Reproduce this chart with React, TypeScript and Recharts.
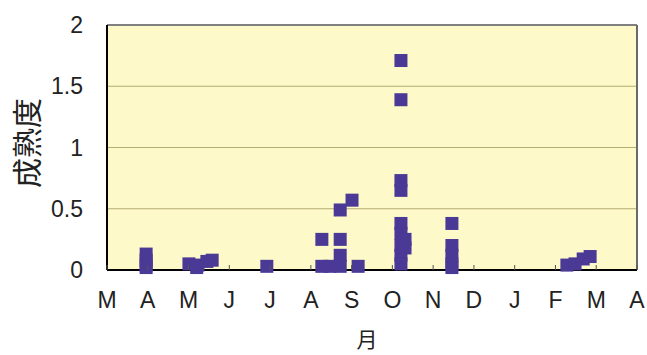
import { CartesianGrid, ReferenceLine, Scatter, ScatterChart, XAxis, YAxis } from "recharts";

const monthLabels = ["M", "A", "M", "J", "J", "A", "S", "O", "N", "D", "J", "F", "M", "A"];
const yTicks = [0, 0.5, 1, 1.5, 2];

// month position (0 = March) and maturity value
const monthPos = [
  0.96, 0.96, 0.96, 0.96,
  2.01, 2.23, 2.45, 2.58, 2.2,
  3.92,
  5.27, 5.27, 5.47, 5.72, 5.72, 5.72, 5.72, 6.01, 6.16,
  7.21, 7.21, 7.21, 7.21, 7.21, 7.21, 7.21, 7.21, 7.21, 7.31, 7.31,
  8.46, 8.46, 8.46, 8.46, 8.46,
  11.28, 11.48, 11.68, 11.85,
];
const maturity = [
  0.13, 0.08, 0.04, 0.02,
  0.05, 0.04, 0.07, 0.08, 0.02,
  0.03,
  0.25, 0.03, 0.03, 0.49, 0.25, 0.12, 0.03, 0.57, 0.03,
  1.71, 1.39, 0.73, 0.65, 0.38, 0.3, 0.2, 0.12, 0.05, 0.25, 0.18,
  0.38, 0.2, 0.12, 0.05, 0.02,
  0.04, 0.05, 0.09, 0.11,
];

const points = monthPos.map((m, i) => ({ month: m, value: maturity[i] }));

const font = "'Liberation Sans', Arial, sans-serif";

const Square = (props: any) => {
  const { cx, cy } = props;
  return <rect x={cx - 6.5} y={cy - 6.5} width={13} height={13} fill="#4b3996" />;
};

const MonthTick = (props: any) => {
  const { x, y, payload } = props;
  return (
    <g>
      <line x1={x} y1={y} x2={x} y2={y - 5} stroke="#555" strokeWidth={1} />
      <text x={x} y={y + 38} textAnchor="middle" fontSize={23} fill="#222" fontFamily={font}>
        {monthLabels[payload.value]}
      </text>
    </g>
  );
};

const YTitle = () => (
  <text
    x={25}
    y={143}
    transform="rotate(-90 25 143)"
    textAnchor="middle"
    dominantBaseline="central"
    fontSize={30}
    fill="#222"
    fontFamily="'Noto Sans CJK JP', sans-serif"
  >
    成熟度
  </text>
);

const XTitle = () => (
  <text x={367} y={347} textAnchor="middle" fontSize={21} fill="#222" fontFamily="'Noto Sans CJK JP', sans-serif">
    月
  </text>
);

export default function App() {
  return (
    <div style={{ position: "absolute", left: 0, top: 0, width: 647, height: 355, background: "#fff" }}>
      <style>{`body{margin:0}`}</style>
      <ScatterChart width={647} height={355} margin={{ top: 25, right: 10, left: 0, bottom: 0 }}>
        <CartesianGrid vertical={false} stroke="#b3ad72" fill="#fdf9c9" fillOpacity={1} />
        <XAxis
          type="number"
          dataKey="month"
          domain={[0, 13]}
          ticks={monthLabels.map((_, i) => i)}
          interval={0}
          height={85}
          axisLine={{ stroke: "#000", strokeWidth: 2 }}
          tickLine={false}
          tickSize={0}
          tickMargin={0}
          tick={<MonthTick />}
          label={<XTitle />}
        />
        <YAxis
          type="number"
          dataKey="value"
          domain={[0, 2]}
          ticks={yTicks}
          width={107}
          axisLine={{ stroke: "#000", strokeWidth: 2 }}
          tickLine={false}
          tickSize={0}
          tickMargin={24}
          tick={{ fontSize: 23, fill: "#222", fontFamily: font }}
          label={<YTitle />}
        />
        <ReferenceLine y={2} stroke="#808080" strokeWidth={2} />
        <ReferenceLine x={13} stroke="#6a6a6a" strokeWidth={2} />
        <Scatter data={points} shape={<Square />} isAnimationActive={false} />
      </ScatterChart>
    </div>
  );
}
